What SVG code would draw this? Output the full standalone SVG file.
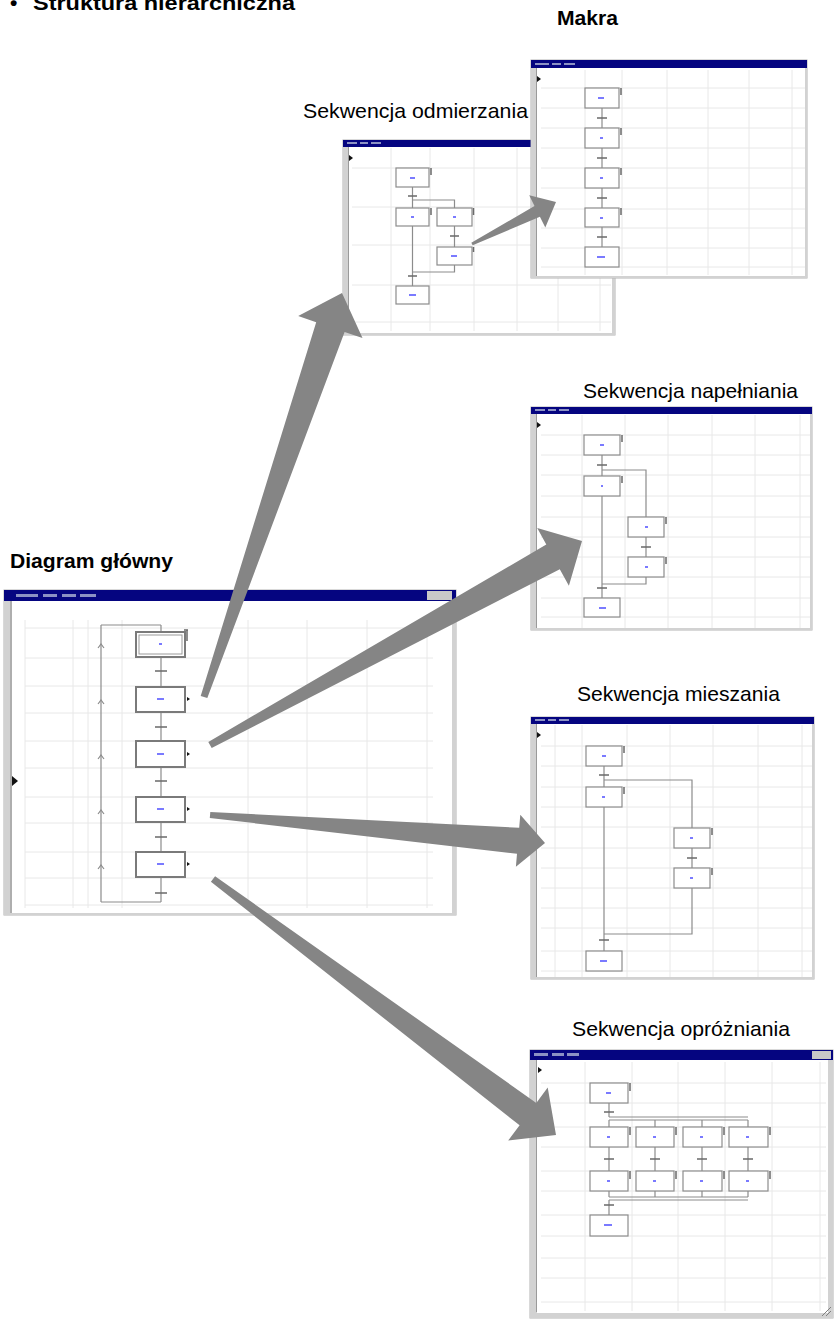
<svg xmlns="http://www.w3.org/2000/svg" width="834" height="1327" viewBox="0 0 834 1327">
<style>
.lbl{font-family:"Liberation Sans",Arial,sans-serif;font-size:21px;fill:#000}
.b{font-weight:bold}
.bg{fill:#fff;stroke:#b4b4b4;stroke-width:1}
.tb{fill:#050580}
.tbm{fill:#8c92c4}
.strip{fill:#d2d2d2}
.grid{stroke:#e8e8e8;stroke-width:1;fill:none}
.step{fill:#fff;stroke:#8c8c8c;stroke-width:1.2}
.mstep{fill:#fff;stroke:#7a7a7a;stroke-width:2}
.lk{stroke:#8c8c8c;stroke-width:1.2;fill:none}
.tr{stroke:#6a6a6a;stroke-width:1.6}
.brk{stroke:#6a6a6a;stroke-width:1.5}
.bm{fill:#7a7aff}
.arrow{fill:#858585}
.tri{fill:#111}
</style>

<g id="title">
<text class="lbl b" y="10" font-size="23"><tspan x="10">•</tspan><tspan x="33" textLength="262" lengthAdjust="spacingAndGlyphs">Struktura hierarchiczna</tspan></text>
</g>

<!-- Sekwencja odmierzania window -->
<g id="odmierzania">
<text class="lbl" x="303" y="118" textLength="225" lengthAdjust="spacingAndGlyphs">Sekwencja odmierzania</text>
<rect class="bg" x="343" y="140" width="272" height="195"/>
<g class="grid">
<path d="M352 168H611M352 207H611M352 245H611M352 285H611M352 322H611M391 148V331M430 148V331M474 148V331M517 148V331M558 148V331M600 148V331"/>
</g>
<rect class="tb" x="343" y="140" width="272" height="7"/>
<rect class="tbm" x="347" y="142" width="10" height="2"/><rect class="tbm" x="360" y="142" width="8" height="2"/><rect class="tbm" x="371" y="142" width="10" height="2"/>
<rect class="strip" x="343" y="147" width="6" height="188"/>
<path d="M348.5 147V333" stroke="#9a9a9a" stroke-width="1"/>
<rect class="strip" x="612" y="147" width="3" height="188"/>
<rect class="strip" x="343" y="333" width="272" height="2"/>
<polygon class="tri" points="349,155 353,158 349,161"/>
<path class="lk" d="M412.5 187V286M412.5 200H454.5V247M454.5 265V272H412.5"/>
<rect class="step" x="396" y="168" width="33" height="19"/>
<rect class="step" x="396" y="208" width="33" height="18"/>
<rect class="step" x="437" y="208" width="35" height="18"/>
<rect class="step" x="437" y="247" width="35" height="18"/>
<rect class="step" x="396" y="286" width="33" height="18"/>
<path class="tr" d="M408 196H417M450 236H459M408 276H417"/>
<path class="brk" d="M431 168V175M431 208V215M473.5 208V215M473.5 247V252"/>
<rect class="bm" x="410" y="177" width="5" height="2"/><rect class="bm" x="411" y="216" width="3" height="2"/><rect class="bm" x="453" y="216" width="3" height="2"/><rect class="bm" x="451" y="255" width="6" height="2"/><rect class="bm" x="409" y="294" width="7" height="2"/>
</g>

<!-- Makra window -->
<g id="makra">
<text class="lbl b" x="557" y="25" textLength="61" lengthAdjust="spacingAndGlyphs">Makra</text>
<rect class="bg" x="531" y="60" width="276" height="218"/>
<g class="grid">
<path d="M541 88H805M541 108H805M541 128H805M541 148H805M541 168H805M541 188H805M541 209H805M541 228H805M541 248H805M541 267H805M585 70V275M622 70V275M667 70V275M708 70V275M749 70V275M792 70V275"/>
</g>
<rect class="tb" x="531" y="60" width="276" height="8"/>
<rect class="tbm" x="535" y="63" width="14" height="2"/><rect class="tbm" x="552" y="63" width="9" height="2"/><rect class="tbm" x="564" y="63" width="11" height="2"/>
<rect class="strip" x="531" y="68" width="6" height="210"/>
<path d="M536.5 68V276" stroke="#9a9a9a" stroke-width="1"/>
<rect class="strip" x="805" y="68" width="2" height="210"/>
<rect class="strip" x="531" y="276" width="276" height="2"/>
<polygon class="tri" points="537,76 541,79 537,82"/>
<path class="lk" d="M602 108V247"/>
<rect class="step" x="585" y="88" width="34" height="20"/>
<rect class="step" x="585" y="128" width="34" height="20"/>
<rect class="step" x="585" y="168" width="34" height="20"/>
<rect class="step" x="585" y="208" width="34" height="19"/>
<rect class="step" x="585" y="247" width="34" height="20"/>
<path class="tr" d="M597 118H607M597 158H607M597 198H607M597 237H607"/>
<path class="brk" d="M621 88V95M621 128V135M621 168V175M621 208V215"/>
<rect class="bm" x="598" y="97" width="6" height="2"/><rect class="bm" x="600" y="137" width="3" height="2"/><rect class="bm" x="600" y="177" width="3" height="2"/><rect class="bm" x="600" y="217" width="3" height="2"/><rect class="bm" x="597" y="256" width="8" height="2"/>
</g>

<!-- Sekwencja napelniania window -->
<g id="napelniania">
<text class="lbl" x="583" y="398" textLength="215" lengthAdjust="spacingAndGlyphs">Sekwencja napełniania</text>
<rect class="bg" x="531" y="407" width="281" height="223"/>
<g class="grid">
<path d="M541 435H810M541 455H810M541 475H810M541 496H810M541 517H810M541 537H810M541 557H810M541 577H810M541 598H810M541 617H810M582 415V628M625 415V628M668 415V628M712 415V628M755 415V628M800 415V628"/>
</g>
<rect class="tb" x="531" y="407" width="281" height="7"/>
<rect class="tbm" x="535" y="409" width="10" height="2"/><rect class="tbm" x="548" y="409" width="8" height="2"/><rect class="tbm" x="559" y="409" width="10" height="2"/>
<rect class="strip" x="531" y="414" width="6" height="216"/>
<path d="M536.5 414V628" stroke="#9a9a9a" stroke-width="1"/>
<rect class="strip" x="810" y="414" width="2" height="216"/>
<rect class="strip" x="531" y="628" width="281" height="2"/>
<polygon class="tri" points="537,422 541,425 537,428"/>
<path class="lk" d="M602 455V598M602 470H646V517M646 537V557M646 577V584H602"/>
<rect class="step" x="584" y="435" width="36" height="20"/>
<rect class="step" x="584" y="476" width="36" height="20"/>
<rect class="step" x="628" y="517" width="36" height="20"/>
<rect class="step" x="628" y="557" width="36" height="20"/>
<rect class="step" x="584" y="598" width="36" height="19"/>
<path class="tr" d="M597 465H607M641 547H651M597 588H607"/>
<path class="brk" d="M622 435V442M622 476V483M666 517V524M666 557V564"/>
<rect class="bm" x="600" y="444" width="4" height="2"/><rect class="bm" x="601" y="485" width="2" height="2"/><rect class="bm" x="645" y="526" width="3" height="2"/><rect class="bm" x="645" y="566" width="3" height="2"/><rect class="bm" x="599" y="607" width="7" height="2"/>
</g>

<!-- Sekwencja mieszania window -->
<g id="mieszania">
<text class="lbl" x="577" y="701" textLength="203" lengthAdjust="spacingAndGlyphs">Sekwencja mieszania</text>
<rect class="bg" x="531" y="717" width="283" height="262"/>
<g class="grid">
<path d="M541 746H812M541 766H812M541 787H812M541 807H812M541 827H812M541 848H812M541 868H812M541 888H812M541 908H812M541 928H812M541 951H812M541 971H812M555 725V977M582 725V977M627 725V977M670 725V977M713 725V977M758 725V977M802 725V977"/>
</g>
<rect class="tb" x="531" y="717" width="283" height="7"/>
<rect class="tbm" x="535" y="719" width="10" height="2"/><rect class="tbm" x="548" y="719" width="8" height="2"/><rect class="tbm" x="559" y="719" width="10" height="2"/>
<rect class="strip" x="531" y="724" width="6" height="255"/>
<path d="M536.5 724V977" stroke="#9a9a9a" stroke-width="1"/>
<rect class="strip" x="812" y="724" width="2" height="255"/>
<rect class="strip" x="531" y="977" width="283" height="2"/>
<polygon class="tri" points="537,732 541,735 537,738"/>
<path class="lk" d="M604 766V951M604 780H692V828M692 848V868M692 888V934H604"/>
<rect class="step" x="586" y="746" width="36" height="20"/>
<rect class="step" x="586" y="787" width="36" height="20"/>
<rect class="step" x="674" y="828" width="36" height="20"/>
<rect class="step" x="674" y="868" width="36" height="20"/>
<rect class="step" x="586" y="951" width="36" height="20"/>
<path class="tr" d="M599 775H609M687 858H697M599 940H609"/>
<path class="brk" d="M624 746V753M624 787V794M712 828V835M712 868V875"/>
<rect class="bm" x="602" y="755" width="4" height="2"/><rect class="bm" x="602" y="796" width="3" height="2"/><rect class="bm" x="690" y="837" width="3" height="2"/><rect class="bm" x="690" y="877" width="3" height="2"/><rect class="bm" x="600" y="960" width="7" height="2"/>
</g>

<!-- Sekwencja oprozniania window -->
<g id="oprozniania">
<text class="lbl" x="572" y="1036" textLength="218" lengthAdjust="spacingAndGlyphs">Sekwencja opróżniania</text>
<rect class="bg" x="530" y="1050" width="303" height="268"/>
<g class="grid">
<path d="M541 1083H826M541 1103H826M541 1127H826M541 1147H826M541 1171H826M541 1191H826M541 1215H826M541 1236H826M541 1258H826M541 1278H826M541 1302H826M585 1062V1311M632 1062V1311M678 1062V1311M725 1062V1311M772 1062V1311M820 1062V1311"/>
</g>
<rect class="tb" x="530" y="1050" width="303" height="10"/>
<rect class="tbm" x="534" y="1053" width="14" height="3"/><rect class="tbm" x="552" y="1053" width="12" height="3"/><rect class="tbm" x="567" y="1053" width="12" height="3"/>
<rect x="812" y="1051" width="19" height="8" fill="#c8c8c8"/>
<rect class="strip" x="530" y="1060" width="7" height="258"/>
<path d="M536.5 1060V1312" stroke="#9a9a9a" stroke-width="1"/>
<rect class="strip" x="828" y="1060" width="5" height="258"/>
<rect class="strip" x="530" y="1313" width="303" height="5"/>
<path d="M822 1316L831 1307M826 1316L831 1311" stroke="#808080" stroke-width="1"/>
<polygon class="tri" points="538,1067 542,1070 538,1073"/>
<path class="lk" d="M609 1103V1117M609 1117H748M609 1120H748M609 1120V1127M655 1120V1127M702 1120V1127M748 1120V1127M609 1147V1171M655 1147V1171M702 1147V1171M748 1147V1171M609 1191V1197M655 1191V1197M702 1191V1197M748 1191V1197M609 1197H748M609 1200H748M609 1200V1215"/>
<rect class="step" x="590" y="1083" width="38" height="20"/>
<rect class="step" x="590" y="1127" width="38" height="20"/>
<rect class="step" x="636" y="1127" width="38" height="20"/>
<rect class="step" x="683" y="1127" width="39" height="20"/>
<rect class="step" x="729" y="1127" width="39" height="20"/>
<rect class="step" x="590" y="1171" width="38" height="20"/>
<rect class="step" x="636" y="1171" width="38" height="20"/>
<rect class="step" x="683" y="1171" width="39" height="20"/>
<rect class="step" x="729" y="1171" width="39" height="20"/>
<rect class="step" x="590" y="1215" width="38" height="21"/>
<path class="tr" d="M604 1112H614M604 1159H614M650 1159H660M697 1159H707M743 1159H753M604 1205H614"/>
<path class="brk" d="M630 1083V1091M630 1127V1135M676 1127V1135M724 1127V1135M770 1127V1135M630 1171V1179M676 1171V1179M724 1171V1179M770 1171V1179"/>
<rect class="bm" x="606" y="1092" width="5" height="2"/><rect class="bm" x="607" y="1136" width="3" height="2"/><rect class="bm" x="653" y="1136" width="3" height="2"/><rect class="bm" x="700" y="1136" width="3" height="2"/><rect class="bm" x="746" y="1136" width="3" height="2"/><rect class="bm" x="607" y="1180" width="3" height="2"/><rect class="bm" x="653" y="1180" width="3" height="2"/><rect class="bm" x="700" y="1180" width="3" height="2"/><rect class="bm" x="746" y="1180" width="3" height="2"/><rect class="bm" x="604" y="1224" width="8" height="2"/>
</g>

<!-- Main diagram window -->
<g id="glowny">
<text class="lbl b" x="10" y="568" textLength="163" lengthAdjust="spacingAndGlyphs">Diagram główny</text>
<rect class="bg" x="4" y="590" width="452" height="325"/>
<g class="grid">
<path d="M25 628H433M25 658H433M25 686H433M25 713H433M25 741H433M25 768H433M25 797H433M25 823H433M25 852H433M25 878H433M25 905H433M25 620V908M73 620V908M88 620V908M122 620V908M248 620V908M307 620V908M367 620V908M427 620V908"/>
</g>
<rect class="tb" x="4" y="590" width="452" height="11"/>
<rect class="tbm" x="16" y="594" width="22" height="3"/><rect class="tbm" x="43" y="594" width="14" height="3"/><rect class="tbm" x="62" y="594" width="14" height="3"/><rect class="tbm" x="80" y="594" width="16" height="3"/>
<rect x="427" y="591" width="25" height="9" fill="#c8c8c8"/>
<rect class="strip" x="4" y="601" width="8" height="314"/>
<path d="M11 601V913" stroke="#8a8a8a" stroke-width="1"/>
<rect class="strip" x="452" y="601" width="4" height="314"/>
<rect class="strip" x="4" y="913" width="452" height="2"/>
<polygon class="tri" points="12,776 18,781 12,786"/>
<path class="lk" d="M161 625V902M101 625V902M101 625H161M101 902H161"/>
<path class="lk" d="M98 648L101 644L104 648M98 704L101 700L104 704M98 759L101 755L104 759M98 814L101 810L104 814M98 869L101 865L104 869"/>
<rect class="mstep" x="136" y="632" width="49" height="25"/>
<rect x="139" y="635" width="43" height="19" fill="none" stroke="#9a9a9a" stroke-width="1"/>
<rect class="mstep" x="136" y="687" width="49" height="25"/>
<rect class="mstep" x="136" y="741" width="49" height="26"/>
<rect class="mstep" x="136" y="797" width="49" height="25"/>
<rect class="mstep" x="136" y="852" width="49" height="25"/>
<path class="tr" d="M155 671H167M155 727H167M155 781H167M155 837H167M155 893H167"/>
<path class="brk" d="M187 630V641M184 630H188"/>
<polygon class="tri" points="187,697 190,699 187,701"/>
<polygon class="tri" points="187,752 190,754 187,756"/>
<polygon class="tri" points="187,807 190,809 187,811"/>
<polygon class="tri" points="187,862 190,864 187,866"/>
<rect class="bm" x="159" y="643" width="3" height="2"/><rect class="bm" x="157" y="698" width="7" height="2"/><rect class="bm" x="157" y="753" width="7" height="2"/><rect class="bm" x="157" y="808" width="7" height="2"/><rect class="bm" x="157" y="863" width="7" height="2"/>
</g>

<g id="connectors">
<polygon class="arrow" points="207.3,698.1 344.6,331.9 362.5,338.1 342,293 298.2,316.1 316.2,322.2 200.7,695.9"/>
<polygon class="arrow" points="211.7,748.1 559.8,569.2 568.9,585.8 582,541 537.2,527.9 546.3,544.6 208.3,741.9"/>
<polygon class="arrow" points="209.8,818 517,853.7 515.9,866.7 545,843 520.3,814.8 519.2,827.8 210.3,812"/>
<polygon class="arrow" points="210.9,881.8 519.6,1125.3 508.2,1140.5 556,1135 547.7,1087.6 536.3,1102.9 215.1,876.2"/>
<polygon class="arrow" points="472.7,245.3 539.9,216.8 545.3,227.5 556,202 529.2,195.3 534.5,206 471.3,242.7"/>
</g>
</svg>
